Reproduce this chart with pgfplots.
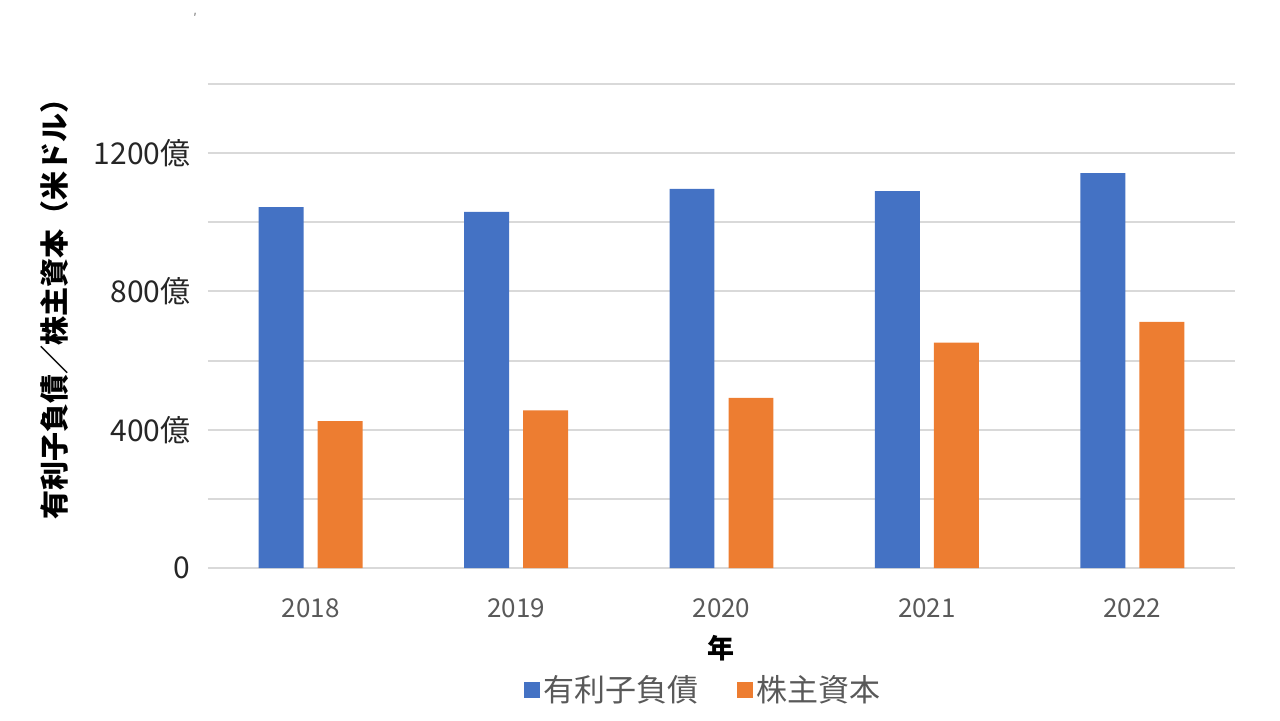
\documentclass[border=0pt]{standalone}
\usepackage{fontspec}
\setmainfont{Noto Sans CJK JP}
\usepackage{pgfplots}
\pgfplotsset{compat=1.18}
\definecolor{debt}{HTML}{4472C4}
\definecolor{equity}{HTML}{ED7D31}
\definecolor{gridc}{HTML}{D9D9D9}
\definecolor{labc}{HTML}{595959}
\begin{document}
\begin{tikzpicture}
\begin{axis}[
  at={(104pt,76pt)}, anchor=south west,
  scale only axis, width=513.5pt, height=242pt,
  xmin=-0.5, xmax=4.5, ymin=0, ymax=1400,
  axis line style={draw=none},
  major tick length=0pt,
  xtick={0,1,2,3,4},
  xticklabels={2018,2019,2020,2021,2022},
  ytick={0,200,...,1400},
  yticklabels={0,,400億,,800億,,1200億,},
  ymajorgrids,
  grid style={gridc, line width=1pt},
  xticklabel style={anchor=center, yshift=-20pt, font=\fontsize{13}{15}\selectfont, text=labc},
  yticklabel style={anchor=east, inner sep=0pt, xshift=-8.5pt, font=\fontsize{15}{18}\selectfont, text=black!85},
  xlabel={年},
  xlabel style={at={(axis description cs:0.5,0)}, anchor=center, yshift=-40pt, font=\bfseries\fontsize{13.5}{16}\selectfont},
  ylabel={有利子負債／株主資本（米ドル）},
  ylabel style={at={(axis description cs:-0.149,0.55)}, anchor=center, font=\bfseries\fontsize{14.5}{17}\selectfont},
  legend columns=2,
  legend style={at={(axis description cs:0.483,-0.252)}, anchor=center, draw=none, fill=none,
    font=\fontsize{15.5}{18}\selectfont, text=labc,
    /tikz/every even column/.append style={column sep=17pt}},
  legend image code/.code={\fill[#1] (0pt,-4pt) rectangle (8pt,4pt);},
]
\addplot[ybar, bar width=0.219, bar shift=-0.1436, fill=debt, draw=none]
  coordinates {(0,1044) (1,1030) (2,1097) (3,1090) (4,1142)};
\addplot[ybar, bar width=0.219, bar shift=0.1436, fill=equity, draw=none]
  coordinates {(0,425) (1,456) (2,492) (3,652) (4,712)};
\legend{有利子負債,株主資本}
\end{axis}
\node[font=\fontsize{6}{6}\selectfont, text=black!60] at (97.5pt,351pt) {′};
\pgfresetboundingbox
\path[use as bounding box] (0,0) rectangle (640pt,360pt);
\end{tikzpicture}
\end{document}
